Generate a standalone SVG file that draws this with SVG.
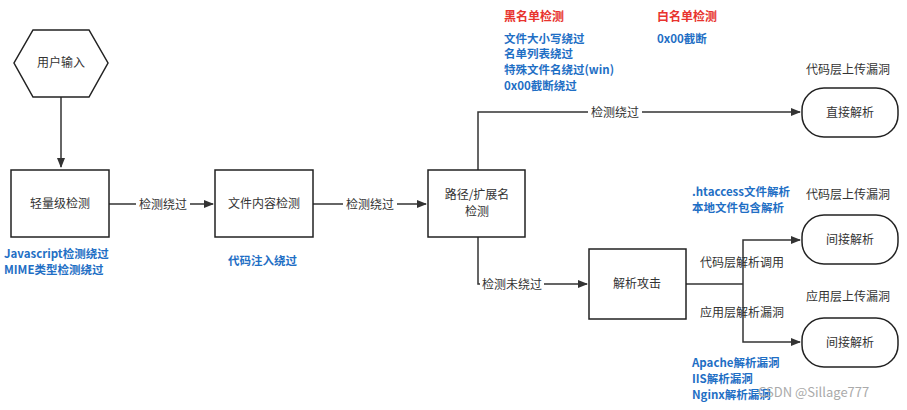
<svg xmlns="http://www.w3.org/2000/svg" width="907" height="410" viewBox="0 0 907 410">
<defs>
<marker id="ah" markerWidth="10" markerHeight="8" refX="9" refY="4" orient="auto" markerUnits="userSpaceOnUse"><path d="M0,0 L10,4 L0,8 z" fill="#333"/></marker>
<style>
text{font-family:"Noto Sans CJK SC","Liberation Sans",sans-serif;font-size:12px;fill:#333}
.c{text-anchor:middle}
.b{fill:#1f6fc5;font-weight:bold;font-size:11.5px}
.r{fill:#e8332e;font-weight:bold}
.n{fill:#fff;stroke:#222;stroke-width:1.5}
.l{fill:none;stroke:#333;stroke-width:1.5}
.lb{fill:#fff}
</style>
</defs>
<rect width="907" height="410" fill="#fff"/>
<g id="connectors">
<path class="l" d="M61,97 V167" marker-end="url(#ah)"/>
<path class="l" d="M109,204 H213" marker-end="url(#ah)"/>
<path class="l" d="M313,204 H426" marker-end="url(#ah)"/>
<path class="l" d="M478,170 V112 H800" marker-end="url(#ah)"/>
<path class="l" d="M478,237 V284 H587" marker-end="url(#ah)"/>
<path class="l" d="M686,284 H743"/>
<path class="l" d="M743,284 V240 H800" marker-end="url(#ah)"/>
<path class="l" d="M743,284 V342 H800" marker-end="url(#ah)"/>
<rect class="lb" x="136" y="197" width="54" height="15"/><text class="c" x="163" y="209">检测绕过</text>
<rect class="lb" x="343" y="197" width="54" height="15"/><text class="c" x="370" y="209">检测绕过</text>
<rect class="lb" x="588" y="105" width="54" height="15"/><text class="c" x="615" y="117">检测绕过</text>
<rect class="lb" x="480" y="277" width="64" height="15"/><text class="c" x="512" y="289">检测未绕过</text>
<text x="700" y="267">代码层解析调用</text>
<text x="700" y="317">应用层解析漏洞</text>
</g>
<g id="user-input"><polygon class="n" points="33,30 89,30 108,63 89,97 33,97 14,63"/><text class="c" x="61" y="67">用户输入</text></g>
<g id="light-check"><rect class="n" x="11" y="170" width="98" height="67"/><text class="c" x="60" y="208">轻量级检测</text></g>
<g id="content-check"><rect class="n" x="215" y="170" width="98" height="67"/><text class="c" x="264" y="208">文件内容检测</text></g>
<g id="path-check"><rect class="n" x="428" y="170" width="97" height="67"/><text class="c" x="477" y="199">路径/扩展名</text><text class="c" x="477" y="216">检测</text></g>
<g id="parse-attack"><rect class="n" x="589" y="249" width="97" height="70"/><text class="c" x="637" y="288">解析攻击</text></g>
<g id="direct"><rect class="n" x="802" y="88" width="96" height="49" rx="22"/><text class="c" x="850" y="117">直接解析</text></g>
<g id="indirect1"><rect class="n" x="802" y="215" width="96" height="49" rx="22"/><text class="c" x="850" y="244">间接解析</text></g>
<g id="indirect2"><rect class="n" x="802" y="318" width="96" height="49" rx="22"/><text class="c" x="850" y="347">间接解析</text></g>
<g id="notes">
<text class="r" x="504" y="21">黑名单检测</text>
<text class="r" x="657" y="21">白名单检测</text>
<text class="b" x="504" y="43">文件大小写绕过</text>
<text class="b" x="504" y="58">名单列表绕过</text>
<text class="b" x="504" y="74">特殊文件名绕过(win)</text>
<text class="b" x="504" y="90">0x00截断绕过</text>
<text class="b" x="657" y="43">0x00截断</text>
<text x="806" y="74">代码层上传漏洞</text>
<text x="806" y="199">代码层上传漏洞</text>
<text x="806" y="301">应用层上传漏洞</text>
<text class="b" x="692" y="196">.htaccess文件解析</text>
<text class="b" x="692" y="212">本地文件包含解析</text>
<text class="b" x="692" y="367">Apache解析漏洞</text>
<text class="b" x="692" y="383">IIS解析漏洞</text>
<text class="b" x="692" y="399">Nginx解析漏洞</text>
<text class="b" x="4" y="258">Javascript检测绕过</text>
<text class="b" x="4" y="274">MIME类型检测绕过</text>
<text class="b" x="228" y="265">代码注入绕过</text>
<text x="758" y="397" style="fill:#aaa;font-size:13px">CSDN @Sillage777</text>
</g>
</svg>
